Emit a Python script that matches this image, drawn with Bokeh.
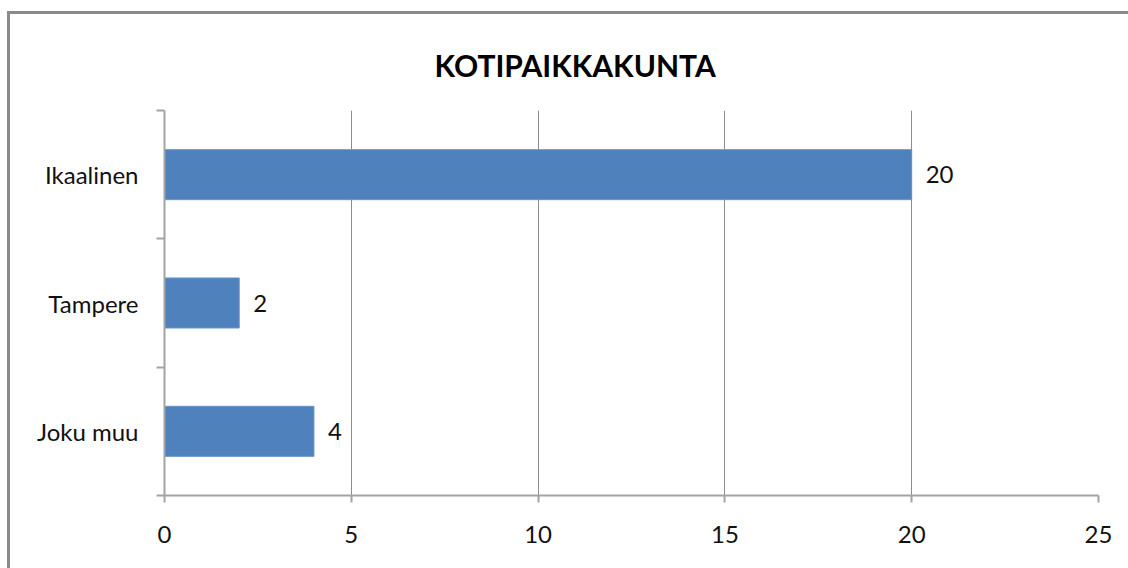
from bokeh.plotting import figure
from bokeh.models import ColumnDataSource, FixedTicker, LabelSet, Range1d
from bokeh.core.properties import value
from bokeh.embed import file_html
from bokeh.resources import INLINE

title_text = "KOTIPAIKKAKUNTA"
categories = ["Ikaalinen", "Tampere", "Joku muu"]
values = [20, 2, 4]
x_ticks = [0, 5, 10, 15, 20, 25]

n = len(categories)
ypos = [n - i - 0.5 for i in range(n)]
src = ColumnDataSource(dict(cat=categories, val=values, y=ypos,
                            lbl=[str(v) for v in values]))

FONT = "Lato"
GRID = "#8c8c8c"
AXIS = "#a3a3a3"
FRAME = "#8a8a8a"

p = figure(width=1128, height=568, output_backend="svg", toolbar_location=None,
           x_range=Range1d(0, 25), y_range=Range1d(0, n),
           min_border_left=164, min_border_right=30, min_border_top=110,
           min_border_bottom=73)
# chart-area border: only its left and top edges are on the page
p.border_fill_alpha = 0
p.styles = {"background": (f"linear-gradient({FRAME},{FRAME}) 7px 11px / 3px 100% no-repeat, "
                           f"linear-gradient({FRAME},{FRAME}) 7px 11px / 100% 3px no-repeat, "
                           "white")}
p.outline_line_color = None
p.background_fill_color = "white"

p.title.text = title_text
p.title.align = "left"
p.title.offset = 270
p.title.standoff = 56
p.title.vertical_align = "bottom"
p.title.text_font = FONT
p.title.text_font_size = "30px"
p.title.text_font_style = "bold"
p.title.text_color = "#000000"

p.hbar(y="y", right="val", left=0, height=0.39, source=src,
       fill_color="#4F81BD", line_color="#6b95c9", line_width=1)

p.add_layout(LabelSet(x="val", y="y", text="lbl", source=src, x_offset=14,
                      text_baseline="middle", text_align="left",
                      text_font=value(FONT), text_font_size="24px",
                      text_color="#111111"))

# x axis
p.xaxis.ticker = FixedTicker(ticks=x_ticks)
p.xaxis.major_tick_out = 7
p.xaxis.major_tick_in = 0
p.xaxis.minor_tick_line_color = None
p.xaxis.axis_line_color = AXIS
p.xaxis.axis_line_width = 2
p.xaxis.major_tick_line_color = AXIS
p.xaxis.major_tick_line_width = 2
p.xaxis.major_label_text_font = FONT
p.xaxis.major_label_text_font_size = "24px"
p.xaxis.major_label_text_color = "#111111"
p.xaxis.major_label_standoff = 23

# y axis: labels at centers, ticks at boundaries
p.yaxis.ticker = FixedTicker(ticks=ypos, minor_ticks=list(range(n + 1)))
p.yaxis.major_label_overrides = {y: c for y, c in zip(ypos, categories)}
p.yaxis.major_tick_line_color = None
p.yaxis.minor_tick_out = 8
p.yaxis.minor_tick_in = 0
p.yaxis.minor_tick_line_color = AXIS
p.yaxis.minor_tick_line_width = 2
p.yaxis.axis_line_color = AXIS
p.yaxis.axis_line_width = 2
p.yaxis.major_label_text_font = FONT
p.yaxis.major_label_text_font_size = "24px"
p.yaxis.major_label_text_color = "#111111"
p.yaxis.major_label_standoff = 18

p.xgrid.ticker = FixedTicker(ticks=x_ticks)
p.xgrid.grid_line_color = GRID
p.xgrid.grid_line_width = 1
p.ygrid.grid_line_color = None

open("out.html", "w").write(file_html(p, INLINE))
